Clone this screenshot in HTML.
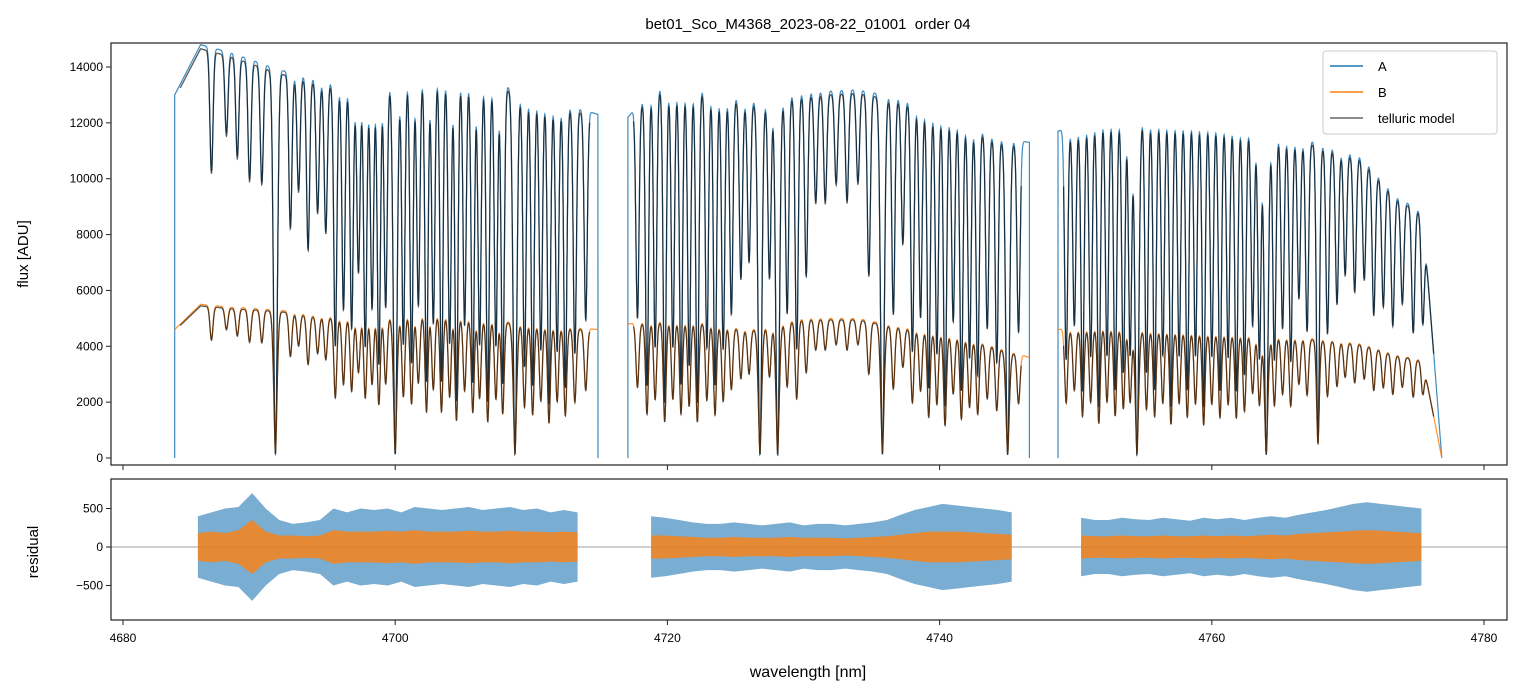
<!DOCTYPE html>
<html><head><meta charset="utf-8">
<style>
body{margin:0;background:#fff;}
svg{display:block;font-family:"Liberation Sans","DejaVu Sans",sans-serif;}
</style></head>
<body>
<svg id="chart" width="1520" height="696" viewBox="0 0 1520 696" xmlns="http://www.w3.org/2000/svg">
<defs>
<clipPath id="cTop"><rect x="111" y="43" width="1396" height="422"/></clipPath>
<clipPath id="cBot"><rect x="111" y="479" width="1396" height="141"/></clipPath>
</defs>
<rect width="1520" height="696" fill="#fff"/>
<text x="808" y="29" font-size="15" text-anchor="middle" style="white-space:pre">bet01_Sco_M4368_2023-08-22_01001  order 04</text>
<g id="topPanel" clip-path="url(#cTop)"></g>
<g id="botPanel" clip-path="url(#cBot)"></g>
<rect x="111" y="43" width="1396" height="422" fill="none" stroke="#222" stroke-width="1.2"/>
<rect x="111" y="479" width="1396" height="141" fill="none" stroke="#222" stroke-width="1.2"/>
<g id="axes"></g>
<text transform="translate(28,254) rotate(-90)" font-size="15" text-anchor="middle">flux [ADU]</text>
<text transform="translate(38,552) rotate(-90)" font-size="15" text-anchor="middle">residual</text>
<text x="808" y="677" font-size="16" text-anchor="middle">wavelength [nm]</text>
<g>
<rect x="1323" y="51" width="174" height="83" rx="3" fill="#fff" fill-opacity="0.85" stroke="#ccc"/>
<line x1="1330" y1="66" x2="1363" y2="66" stroke="#1f77b4" stroke-width="1.5"/>
<text x="1378" y="71" font-size="13">A</text>
<line x1="1330" y1="92" x2="1363" y2="92" stroke="#ff7f0e" stroke-width="1.5"/>
<text x="1378" y="97" font-size="13">B</text>
<line x1="1330" y1="118" x2="1363" y2="118" stroke="#666" stroke-width="1.5"/>
<text x="1378" y="123" font-size="13">telluric model</text>
</g>
</svg>
<script>
// ---- data ----
const segments=[[4683.8,4714.9],[4717.1,4746.6],[4748.7,4776.9]];
const contAx=[4683.8,4685.7,4688,4691.5,4694,4697,4700,4703,4707,4711,4714.9,4717.1,4719,4722,4726,4730,4734,4737,4741,4744,4746.6,4748.7,4752,4756,4760,4764,4767,4771,4773.5,4775.5,4776.9];
const contA=[13000,14800,14500,13900,13600,13300,13600,13800,13500,12900,12300,12200,13300,13300,12800,13100,13200,12900,12300,11500,11300,11700,12300,12300,12200,11800,11400,10800,9400,8800,0];
const contB=[4600,5500,5400,5300,5100,5000,5100,5150,4950,4750,4600,4800,4900,4900,4600,5000,5000,4700,4400,4000,3600,4600,4700,4600,4500,4400,4300,4100,3700,3500,0];
const lineWl=[4686.5,4687.6,4688.4,4689.3,4690.2,4691.2,4692.3,4692.9,4693.6,4694.3,4694.9,4695.6,4696.2,4696.8,4697.3,4697.8,4698.3,4698.8,4699.3,4700.0,4700.6,4701.2,4701.7,4702.3,4702.8,4703.4,4704.0,4704.5,4705.1,4705.7,4706.2,4706.8,4707.4,4707.9,4708.8,4709.5,4710.1,4710.7,4711.3,4711.9,4712.5,4713.2,4714.0,
4717.8,4718.5,4719.1,4719.8,4720.4,4721.0,4721.6,4722.2,4722.9,4723.5,4724.1,4724.7,4725.4,4726.0,4726.8,4727.5,4728.1,4728.8,4729.5,4730.2,4730.9,4731.6,4732.4,4733.2,4734.0,4734.8,4735.8,4736.6,4737.3,4738.0,4738.6,4739.2,4739.8,4740.4,4741.0,4741.6,4742.2,4742.8,4743.5,4744.2,4745.0,4745.8,
4749.3,4749.9,4750.5,4751.1,4751.7,4752.3,4752.9,4753.5,4754.0,4754.5,4755.2,4755.8,4756.4,4757.0,4757.6,4758.2,4758.8,4759.4,4760.0,4760.6,4761.2,4761.8,4762.4,4763.0,4763.5,4764.0,4764.6,4765.2,4765.8,4766.4,4767.0,4767.8,4768.5,4769.2,4769.8,4770.5,4771.2,4771.9,4772.6,4773.3,4774.0,4774.8,4775.5];
const lineDepth=[.3,.2,.25,.3,.3,.99,.4,.3,.45,.35,.4,.7,.6,.65,.5,.7,.6,.75,.6,.99,.7,.75,.6,.8,.65,.8,.7,.85,.65,.8,.7,.85,.7,.8,.99,.75,.8,.7,.85,.7,.8,.7,.6,
.6,.8,.7,.85,.7,.8,.75,.85,.7,.8,.7,.6,.5,.45,.99,.5,.99,.6,.7,.5,.3,.3,.25,.3,.25,.5,.99,.6,.4,.7,.6,.8,.7,.85,.6,.8,.7,.75,.6,.7,.99,.6,
.7,.6,.8,.7,.85,.7,.8,.75,.7,.99,.75,.8,.7,.85,.7,.8,.7,.85,.7,.8,.7,.8,.75,.6,.7,.99,.7,.6,.7,.5,.6,.95,.6,.5,.4,.45,.4,.5,.45,.5,.4,.5,.45];
const residSegs=[[4685.5,4713.4],[4718.8,4745.3],[4750.4,4775.4]];
const residAmpA=[[400,450,500,520,700,500,350,300,320,350,500,450,500,480,500,450,520,500,480,500,520,480,500,520,480,500,450,480,450],
[400,380,350,320,300,300,320,300,280,300,320,280,300,300,280,300,320,350,420,480,520,560,540,520,500,480,450],
[380,350,350,380,360,350,380,360,340,380,360,380,350,380,400,380,420,450,480,520,560,580,560,540,520,500]];
const residAmpB=[[180,200,180,220,350,200,150,150,140,150,220,200,200,200,210,200,220,200,200,200,210,200,200,210,200,200,190,200,190],
[150,150,140,130,120,120,130,120,120,120,130,120,120,120,110,120,130,140,160,180,200,200,200,190,180,170,160],
[150,140,140,150,140,140,150,140,140,150,140,150,140,150,160,150,170,180,190,200,210,220,210,200,190,180]];
const xTicks=[4680,4700,4720,4740,4760,4780];
const yTicksTop=[0,2000,4000,6000,8000,10000,12000,14000];
const yTicksBot=[-500,0,500];

// ---- axes ----
const xS=w=>123+(w-4680)*13.61;
const yT=v=>458-v*0.027929;
const yB=v=>547-v*0.077;
const NS='http://www.w3.org/2000/svg';
function mk(tag,attrs,parent){const e=document.createElementNS(NS,tag);for(const k in attrs)e.setAttribute(k,attrs[k]);parent.appendChild(e);return e;}
function interp(xs,ys,x){if(x<=xs[0])return ys[0];for(let i=1;i<xs.length;i++){if(x<=xs[i]){const t=(x-xs[i-1])/(xs[i]-xs[i-1]);return ys[i-1]+t*(ys[i]-ys[i-1]);}}return ys[ys.length-1];}
function trans(w){let t=1;for(let i=0;i<lineWl.length;i++){const d=lineDepth[i];const wd=d>0.95?0.2:0.16;const z=(w-lineWl[i])/wd;if(Math.abs(z)<4)t*=1-d*Math.exp(-z*z);}return t;}
const topG=document.getElementById('topPanel'),botG=document.getElementById('botPanel'),axesG=document.getElementById('axes');
let pA='',pB='',pMA='',pMB='';
segments.forEach((s)=>{
  let a='',b='',ma='',mb='';
  for(let w=s[0];w<=s[1];w+=0.012){
    const t=trans(w);const ca=interp(contAx,contA,w),cb=interp(contAx,contB,w);
    const fa=ca*t,fb=cb*Math.pow(t,0.7);
    a+='L'+xS(w).toFixed(1)+' '+yT(fa).toFixed(1);
    b+=(b?'L':'M')+xS(w).toFixed(1)+' '+yT(fb).toFixed(1);
    if(w>s[0]+0.4&&w<s[1]-0.6){ma+=(ma?'L':'M')+xS(w).toFixed(1)+' '+yT(fa*0.99).toFixed(1);mb+=(mb?'L':'M')+xS(w).toFixed(1)+' '+yT(fb*0.99).toFixed(1);}
  }
  a='M'+xS(s[0]).toFixed(1)+' '+yT(0).toFixed(1)+a+'L'+xS(s[1]).toFixed(1)+' '+yT(0).toFixed(1);
  pA+=a;pB+=b;pMA+=ma;pMB+=mb;
});
let e;
e=mk('path',{d:pA,fill:'none',stroke:'#1f77b4','stroke-width':1.2,'stroke-opacity':0.85},topG);


e=mk('path',{d:pB,fill:'none',stroke:'#ff7f0e','stroke-width':1.2,'stroke-opacity':0.85},topG);


e=mk('path',{d:pMA+pMB,fill:'none',stroke:'#000','stroke-width':1.3,'stroke-opacity':0.65},topG);



// residuals
e=mk('line',{x1:111,x2:1507,y1:yB(0),y2:yB(0),stroke:'#444','stroke-width':0.6},botG);


function band(seg,amps,color,op,name){
  const n=amps.length;let up='',dn='';
  for(let i=0;i<n;i++){const w=seg[0]+(seg[1]-seg[0])*i/(n-1);up+=(i?'L':'M')+xS(w).toFixed(1)+' '+yB(amps[i]).toFixed(1);}
  for(let i=n-1;i>=0;i--){const w=seg[0]+(seg[1]-seg[0])*i/(n-1);dn+='L'+xS(w).toFixed(1)+' '+yB(-amps[i]).toFixed(1);}
  const p=mk('path',{d:up+dn+'Z',fill:color,'fill-opacity':op},botG);
  
  
}
residSegs.forEach((s,i)=>band(s,residAmpA[i],'#1f77b4',0.6,'residual-a'));
residSegs.forEach((s,i)=>band(s,residAmpB[i],'#ff7f0e',0.8,'residual-b'));

// ticks
xTicks.forEach(v=>{
  const x=xS(v);
  mk('line',{x1:x,x2:x,y1:465,y2:470,stroke:'#222'},axesG);
  mk('line',{x1:x,x2:x,y1:620,y2:625,stroke:'#222'},axesG);
  const t=mk('text',{x:x,y:642,'font-size':12,'text-anchor':'middle'},axesG);t.textContent=v;
  
  
});
yTicksTop.forEach(v=>{
  const y=yT(v);
  mk('line',{x1:106,x2:111,y1:y,y2:y,stroke:'#222'},axesG);
  const t=mk('text',{x:103,y:y+4,'font-size':12,'text-anchor':'end'},axesG);t.textContent=v;
  
  
});
yTicksBot.forEach(v=>{
  const y=yB(v);
  mk('line',{x1:106,x2:111,y1:y,y2:y,stroke:'#222'},axesG);
  const t=mk('text',{x:103,y:y+4,'font-size':12,'text-anchor':'end'},axesG);t.textContent=v<0?'\u2212'+(-v):v;
  
  
});
</script>
</body></html>
